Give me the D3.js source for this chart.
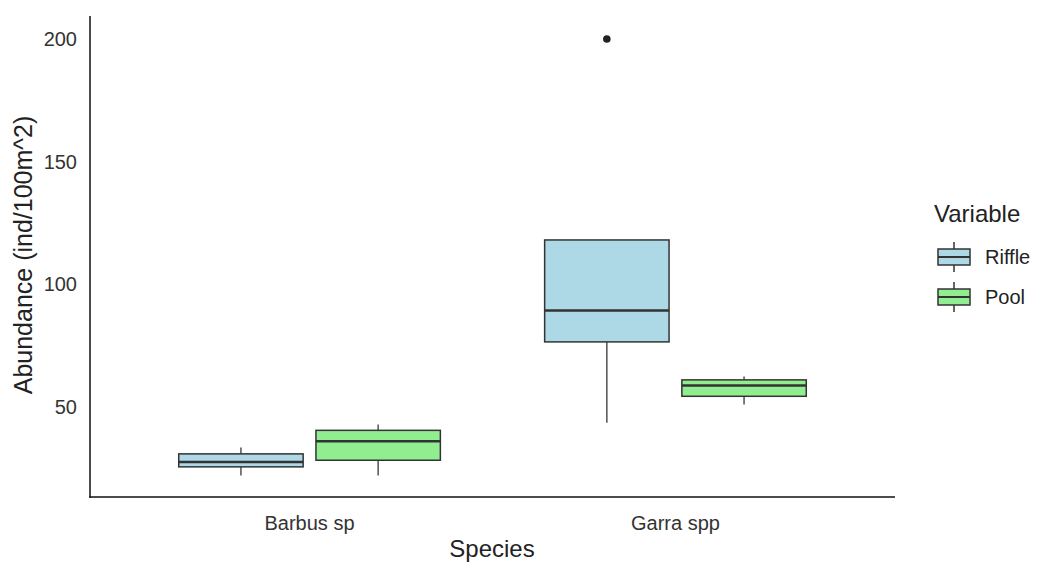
<!DOCTYPE html>
<html><head><meta charset="utf-8">
<script src="https://cdn.jsdelivr.net/npm/d3@7"></script>
<style>body{margin:0;background:#fff;} text{font-family:"Liberation Sans",Arial,sans-serif;}</style>
</head><body>
<svg id="c" width="1037" height="562"></svg>
<script>
const species = ["Barbus sp", "Garra spp"];
const variables = ["Riffle", "Pool"];
const colors = ["#ADD8E6", "#90EE90"];
// [lowerWhisker, q1, median, q3, upperWhisker] per species, per variable
const riffleStats = [[21.9, 25.4, 27.4, 30.7, 33.3], [43.4, 76.4, 89.2, 118.0, 118.0]];
const poolStats   = [[21.9, 28.1, 35.9, 40.3, 42.7], [50.8, 54.2, 58.6, 60.9, 62.3]];
const riffleOutliers = [[], [200]];
const poolOutliers = [[], []];
const yTicks = [50, 100, 150, 200];

const svg = d3.select("#c");
const L = 90, R = 895, T = 16, B = 497;
const y = d3.scaleLinear().domain([13.1, 209.4]).range([B, T]);
const xc = d3.scaleLinear().domain([0.4, 2.6]).range([L, R]);
const unit = xc(1) - xc(0);
const dodge = 0.1875, bw = 0.34;

const data = [];
species.forEach((s, i) => {
  [riffleStats, poolStats].forEach((st, j) => {
    data.push({s, i, v: variables[j], j, st: st[i], out: (j === 0 ? riffleOutliers : poolOutliers)[i]});
  });
});

const g = svg.append("g");
data.forEach(d => {
  const cx = xc(d.i + 1) + (d.j === 0 ? -dodge : dodge) * unit;
  const hw = bw * unit / 2;
  const [lw, q1, md, q3, uw] = d.st;
  const stroke = "#333333";
  g.append("line").attr("x1", cx).attr("x2", cx).attr("y1", y(q3)).attr("y2", y(uw)).attr("stroke", stroke).attr("stroke-width", 1.5).attr("opacity", 0.85);
  g.append("line").attr("x1", cx).attr("x2", cx).attr("y1", y(q1)).attr("y2", y(lw)).attr("stroke", stroke).attr("stroke-width", 1.5).attr("opacity", 0.85);
  g.append("rect").attr("x", cx - hw).attr("width", 2 * hw).attr("y", y(q3)).attr("height", y(q1) - y(q3))
    .attr("fill", colors[d.j]).attr("stroke", stroke).attr("stroke-width", 1.5);
  g.append("line").attr("x1", cx - hw).attr("x2", cx + hw).attr("y1", y(md)).attr("y2", y(md)).attr("stroke", stroke).attr("stroke-width", 2.5);
  d.out.forEach(o => {
    g.append("circle").attr("cx", cx).attr("cy", y(o)).attr("r", 3.8).attr("fill", "#222");
  });
});

// axes lines
svg.append("line").attr("x1", L).attr("x2", L).attr("y1", T).attr("y2", B + 0.75).attr("stroke", "#111").attr("stroke-width", 1.5);
svg.append("line").attr("x1", L - 0.75).attr("x2", R).attr("y1", B).attr("y2", B).attr("stroke", "#111").attr("stroke-width", 1.5);

// y tick labels
svg.selectAll(".yt").data(yTicks).enter().append("text")
  .attr("x", 77).attr("y", d => y(d)).attr("dy", "0.36em").attr("text-anchor", "end")
  .attr("font-size", 20).attr("fill", "#333").text(d => d);
// x tick labels
svg.selectAll(".xt").data(species).enter().append("text")
  .attr("x", (d, i) => xc(i + 1)).attr("y", 530).attr("text-anchor", "middle")
  .attr("font-size", 20).attr("fill", "#333").text(d => d);
// axis titles
svg.append("text").attr("x", 492).attr("y", 557).attr("text-anchor", "middle").attr("font-size", 24).attr("fill", "#222").text("Species");
svg.append("text").attr("transform", `translate(32,255) rotate(-90)`).attr("text-anchor", "middle").attr("font-size", 25).attr("fill", "#222").text("Abundance (ind/100m^2)");

// legend
const lg = svg.append("g");
lg.append("text").attr("x", 934).attr("y", 222).attr("font-size", 24).attr("fill", "#222").text("Variable");
variables.forEach((v, j) => {
  const cy = 257 + j * 40;
  const kx = 938, kw = 32;
  lg.append("line").attr("x1", kx + kw / 2).attr("x2", kx + kw / 2).attr("y1", cy - 15).attr("y2", cy + 15).attr("stroke", "#333").attr("stroke-width", 1.5);
  lg.append("rect").attr("x", kx).attr("y", cy - 8).attr("width", kw).attr("height", 16).attr("fill", colors[j]).attr("stroke", "#333").attr("stroke-width", 1.5);
  lg.append("line").attr("x1", kx).attr("x2", kx + kw).attr("y1", cy).attr("y2", cy).attr("stroke", "#333").attr("stroke-width", 2);
  lg.append("text").attr("x", 985).attr("y", cy).attr("dy", "0.36em").attr("font-size", 20).attr("fill", "#222").text(v);
});
</script>
</body></html>
